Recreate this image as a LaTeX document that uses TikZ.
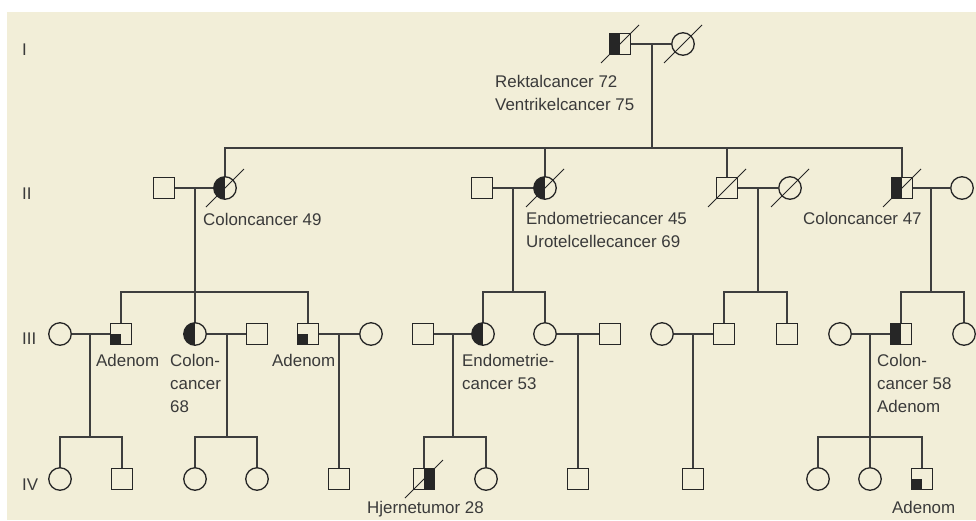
\documentclass[tikz,border=0pt]{standalone}
\usepackage{fontspec}
\setmainfont{Liberation Sans}
\usetikzlibrary{calc}
\definecolor{pedbg}{RGB}{242,238,216}
\definecolor{pedink}{RGB}{38,38,38}
\definecolor{pedline}{RGB}{62,62,62}
\definecolor{pedtext}{RGB}{58,58,58}

\newcommand{\deceased}[1]{\draw[slash] ([shift={(-19,19)}]#1.center) -- ([shift={(19,-19)}]#1.center);}

\begin{document}
\begin{tikzpicture}[
    x=1pt, y=-1pt,
    male/.style={rectangle, draw=pedink, line width=1.3pt, minimum size=21pt, inner sep=0pt, fill=pedbg},
    female/.style={circle, draw=pedink, line width=1.3pt, minimum size=22.5pt, inner sep=0pt, fill=pedbg},
    halfleft/.style={path picture={\fill[pedink] (path picture bounding box.south west) rectangle (path picture bounding box.north);}},
    halfright/.style={path picture={\fill[pedink] (path picture bounding box.north east) rectangle (path picture bounding box.south);}},
    quarter/.style={path picture={\fill[pedink] (path picture bounding box.south west) rectangle (path picture bounding box.center);}},
    line/.style={draw=pedline, line width=1.1pt},
    slash/.style={draw=pedink, line width=1pt},
    note/.style={anchor=base west, align=left, inner sep=0pt, text=pedtext, font=\fontsize{16.9}{23}\selectfont},
    gen/.style={note}
]
    % frame
    \useasboundingbox (0,0) rectangle (976,520);
    \fill[white] (0,0) rectangle (976,520);
    \fill[pedbg] (7,12) rectangle (976,520);

    % generation numbers
    \node[gen] (gI) at (22,55) {I};
    \node[gen] (gII) at (22,199) {II};
    \node[gen] (gIII) at (22,344) {III};
    \node[gen] (gIV) at (22,490) {IV};

    % Generation I
    \node[male, halfleft] (I1) at (620,44) {};
    \node[female] (I2) at (683,44) {};
    \coordinate (mI) at (652,44);
    \coordinate (sI) at (652,148);

    % Generation II
    \node[male] (IIa) at (164,188) {};
    \node[female, halfleft] (IIb) at (225,188) {};
    \node[male] (IIc) at (482,188) {};
    \node[female, halfleft] (IId) at (545,188) {};
    \node[male] (IIe) at (727,188) {};
    \node[female] (IIf) at (790,188) {};
    \node[male, halfleft] (IIg) at (902,188) {};
    \node[female] (IIh) at (962,188) {};
    \coordinate (mIIa) at (195,188);
    \coordinate (sIIa) at (195,292);
    \coordinate (mIIb) at (513,188);
    \coordinate (sIIb) at (513,292);
    \coordinate (mIIc) at (758,188);
    \coordinate (sIIc) at (758,292);
    \coordinate (mIId) at (931,188);
    \coordinate (sIId) at (931,292);

    % Generation III
    \node[female] (IIIa) at (60,334) {};
    \node[male, quarter] (IIIb) at (121,334) {};
    \node[female, halfleft] (IIIc) at (195,334) {};
    \node[male] (IIId) at (257,334) {};
    \node[male, quarter] (IIIe) at (308,334) {};
    \node[female] (IIIf) at (371,334) {};
    \node[male] (IIIg) at (423,334) {};
    \node[female, halfleft] (IIIh) at (483,334) {};
    \node[female] (IIIi) at (545,334) {};
    \node[male] (IIIj) at (610,334) {};
    \node[female] (IIIk) at (662,334) {};
    \node[male] (IIIl) at (724,334) {};
    \node[male] (IIIm) at (787,334) {};
    \node[female] (IIIn) at (840,334) {};
    \node[male, halfleft] (IIIo) at (901,334) {};
    \node[female] (IIIp) at (964,334) {};
    \coordinate (mIIIa) at (90,334);
    \coordinate (sIIIa) at (90,437);
    \coordinate (mIIIb) at (227,334);
    \coordinate (sIIIb) at (227,437);
    \coordinate (mIIIc) at (339,334);
    \coordinate (mIIId) at (453,334);
    \coordinate (sIIId) at (453,437);
    \coordinate (mIIIe) at (578,334);
    \coordinate (mIIIf) at (693,334);
    \coordinate (mIIIg) at (870,334);
    \coordinate (sIIIg) at (870,437);

    % Generation IV
    \node[female] (IVa) at (60,479) {};
    \node[male] (IVb) at (122,479) {};
    \node[female] (IVc) at (195,479) {};
    \node[female] (IVd) at (257,479) {};
    \node[male] (IVe) at (339,479) {};
    \node[male, halfright] (IVf) at (424,479) {};
    \node[female] (IVg) at (486,479) {};
    \node[male] (IVh) at (578,479) {};
    \node[male] (IVi) at (693,479) {};
    \node[female] (IVj) at (818,479) {};
    \node[female] (IVk) at (870,479) {};
    \node[male, quarter] (IVl) at (922,479) {};

    % deceased
    \deceased{I1}
    \deceased{I2}
    \deceased{IIb}
    \deceased{IId}
    \deceased{IIe}
    \deceased{IIf}
    \deceased{IIg}
    \deceased{IVf}

    % marriages and descent
    \draw[line] (I1) -- (I2);
    \draw[line] (mI) -- (sI);
    \draw[line] (IIb.north) |- (sI) -| (IIg.north);
    \draw[line] (IId.north) -- (IId.north |- sI);
    \draw[line] (IIe.north) -- (IIe.north |- sI);

    \draw[line] (IIa) -- (IIb);
    \draw[line] (mIIa) -- (sIIa);
    \draw[line] (IIIb.north) |- (sIIa) -| (IIIe.north);
    \draw[line] (IIIc.north) -- (sIIa);

    \draw[line] (IIc) -- (IId);
    \draw[line] (mIIb) -- (sIIb);
    \draw[line] (IIIh.north) |- (sIIb) -| (IIIi.north);

    \draw[line] (IIe) -- (IIf);
    \draw[line] (mIIc) -- (sIIc);
    \draw[line] (IIIl.north) |- (sIIc) -| (IIIm.north);

    \draw[line] (IIg) -- (IIh);
    \draw[line] (mIId) -- (sIId);
    \draw[line] (IIIo.north) |- (sIId) -| (IIIp.north);

    \draw[line] (IIIa) -- (IIIb);
    \draw[line] (mIIIa) -- (sIIIa);
    \draw[line] (IVa.north) |- (sIIIa) -| (IVb.north);

    \draw[line] (IIIc) -- (IIId);
    \draw[line] (mIIIb) -- (sIIIb);
    \draw[line] (IVc.north) |- (sIIIb) -| (IVd.north);

    \draw[line] (IIIe) -- (IIIf);
    \draw[line] (mIIIc) -- (IVe.north);

    \draw[line] (IIIg) -- (IIIh);
    \draw[line] (mIIId) -- (sIIId);
    \draw[line] (IVf.north) |- (sIIId) -| (IVg.north);

    \draw[line] (IIIi) -- (IIIj);
    \draw[line] (mIIIe) -- (IVh.north);

    \draw[line] (IIIk) -- (IIIl);
    \draw[line] (mIIIf) -- (IVi.north);

    \draw[line] (IIIn) -- (IIIo);
    \draw[line] (mIIIg) -- (sIIIg);
    \draw[line] (IVj.north) |- (sIIIg) -| (IVl.north);
    \draw[line] (IVk.north) -- (sIIIg);

    % diagnoses (base = last line)
    \node[note] (lI1) at (495,110) {Rektalcancer 72\\Ventrikelcancer 75};
    \node[note] (lIIb) at (203,225) {Coloncancer 49};
    \node[note] (lIId) at (526,247) {Endometriecancer 45\\Urotelcellecancer 69};
    \node[note] (lIIg) at (803,224) {Coloncancer 47};
    \node[note] (lIIIb) at (96,366) {Adenom};
    \node[note] (lIIIc) at (170,412) {Colon-\\cancer\\68};
    \node[note] (lIIIe) at (272,366) {Adenom};
    \node[note] (lIIIh) at (462,389) {Endometrie-\\cancer 53};
    \node[note] (lIIIo) at (877,412) {Colon-\\cancer 58\\Adenom};
    \node[note] (lIVf) at (367,513) {Hjernetumor 28};
    \node[note] (lIVl) at (892,513) {Adenom};
\end{tikzpicture}
\end{document}
